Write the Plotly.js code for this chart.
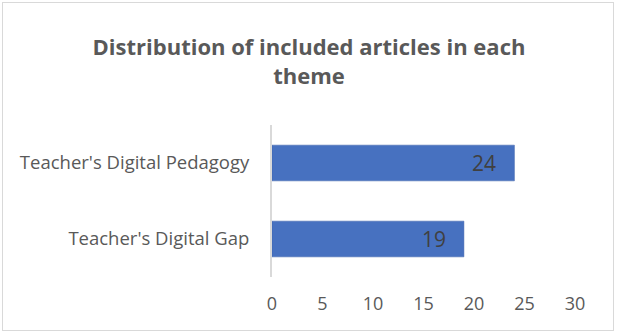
<!DOCTYPE html>
<html><head><meta charset="utf-8">
<script src="https://cdn.plot.ly/plotly-3.0.1.min.js"></script>
<style>
html,body{margin:0;padding:0;background:#fff;}
#wrap{position:relative;width:618px;height:333px;}
#chart{width:618px;height:333px;}
#frame{position:absolute;left:2px;top:2px;width:610px;height:327px;border:1.5px solid #d9d9d9;pointer-events:none;}
</style></head>
<body>
<div id="wrap"><div id="chart"></div><div id="frame"></div></div>
<script>
const categories = ["Teacher's Digital Gap", "Teacher's Digital Pedagogy"];
const counts = [19, 24];
const xTicks = [0, 5, 10, 15, 20, 25, 30];
const titleText = "Distribution of included articles in each<br>theme";

const FONT = "'Open Sans', sans-serif";
const GREY = "#595959";

const trace = {
  type: 'bar',
  orientation: 'h',
  y: categories,
  x: counts,
  width: 0.47,
  marker: {color: '#4771c0', line: {color: '#3a5fa8', width: 0.5}},
  hoverinfo: 'skip'
};

const annotations = counts.map((v, i) => ({
  x: v, y: categories[i], xref: 'x', yref: 'y',
  text: String(v), showarrow: false, xanchor: 'right', xshift: -16,
  font: {family: FONT, size: 21, color: '#404040'}
}));

const layout = {
  width: 618, height: 333,
  margin: {l: 272, r: 43, t: 125, b: 56},
  paper_bgcolor: '#fff', plot_bgcolor: '#fff',
  showlegend: false,
  title: {text: titleText, x: 0.5, xref: 'container', y: 0.834, yref: 'container', yanchor: 'middle',
          xanchor: 'center',
          font: {family: FONT, size: 22, color: GREY, weight: 'bold'}},
  xaxis: {range: [0, 30], tickvals: xTicks, ticktext: xTicks.map(String), showgrid: false, zeroline: false,
          showline: false, ticks: '', ticklen: 0, ticklabelstandoff: 14,
          tickfont: {family: FONT, size: 18, color: GREY}},
  yaxis: {showline: true, linecolor: '#d9d9d9', linewidth: 2, showgrid: false, zeroline: false,
          ticks: '', ticklabelstandoff: 17, tickfont: {family: FONT, size: 18.5, color: GREY}},
  annotations: annotations
};

Plotly.newPlot('chart', [trace], layout, {staticPlot: true, displayModeBar: false});
</script>
</body></html>
